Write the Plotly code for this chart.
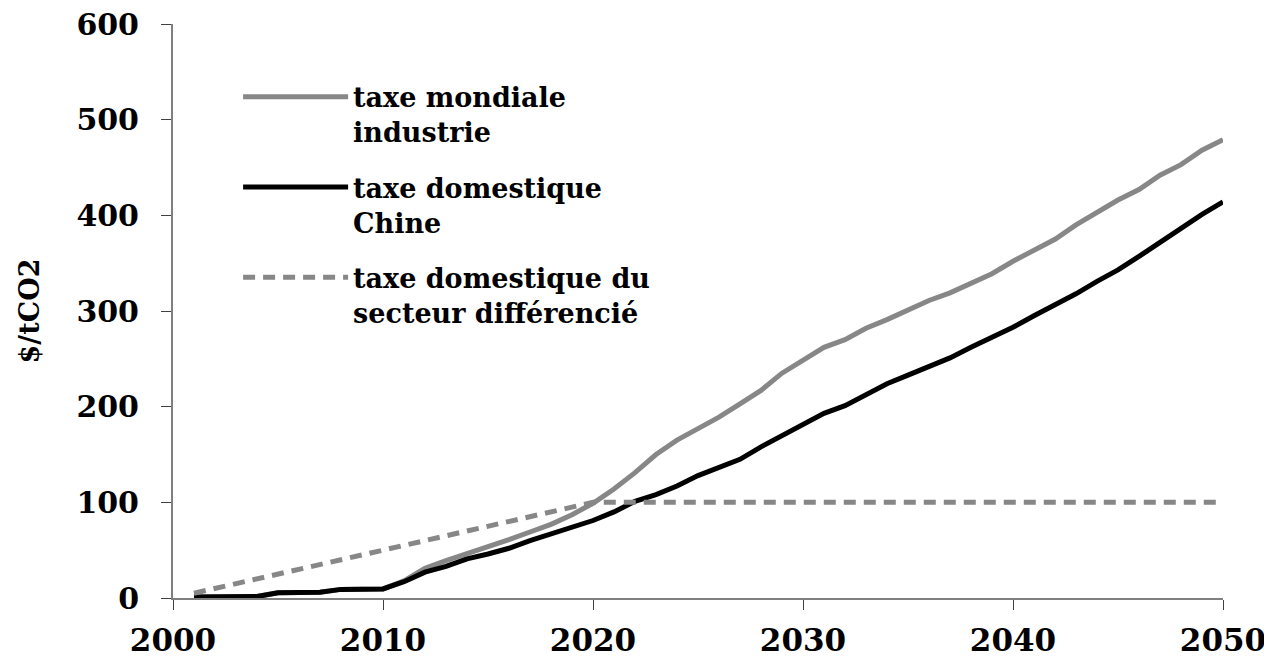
import plotly.graph_objects as go

years = list(range(2001, 2051))

taxe_mondiale_industrie = [
    1, 1, 1, 1.5, 5.5, 5.5, 6, 9, 9, 9.5,
    18, 31, 39, 46, 54, 61, 69, 77, 87, 99,
    114, 131, 150, 165, 177, 189, 203, 217, 235, 249,
    262, 270, 282, 291, 301, 311, 319, 329, 339, 352,
    364, 375, 390, 403, 416, 427, 442, 453, 468, 479,
]

taxe_domestique_chine = [
    1, 1, 1, 1.5, 5.5, 5.5, 6, 9, 9, 9.5,
    17, 27, 33, 41, 46, 52, 60, 67, 73, 81,
    90, 101, 108, 117, 128, 136, 145, 158, 170, 182,
    193, 201, 213, 224, 233, 242, 251, 262, 272, 283,
    295, 306, 318, 331, 343, 357, 372, 386, 401, 414,
]

taxe_secteur_differencie = [
    5, 10, 15, 20, 25, 30, 35, 40, 45, 50,
    55, 60, 65, 70, 75, 80, 85, 90, 95, 100,
    100, 100, 100, 100, 100, 100, 100, 100, 100, 100,
    100, 100, 100, 100, 100, 100, 100, 100, 100, 100,
    100, 100, 100, 100, 100, 100, 100, 100, 100, 100,
]

series_names = [
    "taxe mondiale<br>industrie",
    "taxe domestique<br>Chine",
    "taxe domestique du<br>secteur différencié",
]

x_tickvals = [2000, 2010, 2020, 2030, 2040, 2050]
y_tickvals = [0, 100, 200, 300, 400, 500, 600]

GRAY = "#878787"
FONT = "DejaVu Serif"

fig = go.Figure()
fig.add_trace(go.Scatter(
    x=years, y=taxe_mondiale_industrie, mode="lines", name=series_names[0],
    legendgroup="a", line=dict(color=GRAY, width=5),
))
fig.add_trace(go.Scatter(
    x=years, y=taxe_domestique_chine, mode="lines", name=series_names[1],
    legendgroup="b", line=dict(color="#000000", width=5),
))
fig.add_trace(go.Scatter(
    x=years, y=taxe_secteur_differencie, mode="lines", name=series_names[2],
    legendgroup="c", line=dict(color=GRAY, width=5, dash="12px,8px"),
))

fig.update_layout(
    width=1264, height=657,
    margin=dict(l=165, r=49, t=16, b=67, autoexpand=False),
    plot_bgcolor="white", paper_bgcolor="white",
    showlegend=True,
    legend=dict(
        x=0.062, y=0.915, xanchor="left", yanchor="top",
        font=dict(family=FONT, size=27, color="black", weight="bold"),
        itemwidth=105, valign="top", tracegroupgap=17,
        bgcolor="rgba(0,0,0,0)", traceorder="grouped",
    ),
    xaxis=dict(
        range=[2000, 2050], tickvals=x_tickvals,
        showline=True, linecolor="#808080", linewidth=2,
        ticks="outside", ticklen=10, tickcolor="#404040", tickwidth=1,
        showgrid=False, zeroline=False,
        tickfont=dict(family=FONT, size=31, color="black", weight="bold"),
        ticklabelstandoff=4, ticklabeloverflow="allow",
    ),
    yaxis=dict(
        range=[0, 600], tickvals=y_tickvals,
        showline=True, linecolor="#808080", linewidth=2,
        ticks="outside", ticklen=10, tickcolor="#404040", tickwidth=1,
        showgrid=False, zeroline=False,
        tickfont=dict(family=FONT, size=30, color="black", weight="bold"),
        ticklabelstandoff=16, ticklabeloverflow="allow",
        title=dict(text="$/tCO2", standoff=29,
                   font=dict(family=FONT, size=27, color="black", weight="bold")),
    ),
)

fig.write_html("out.html")
